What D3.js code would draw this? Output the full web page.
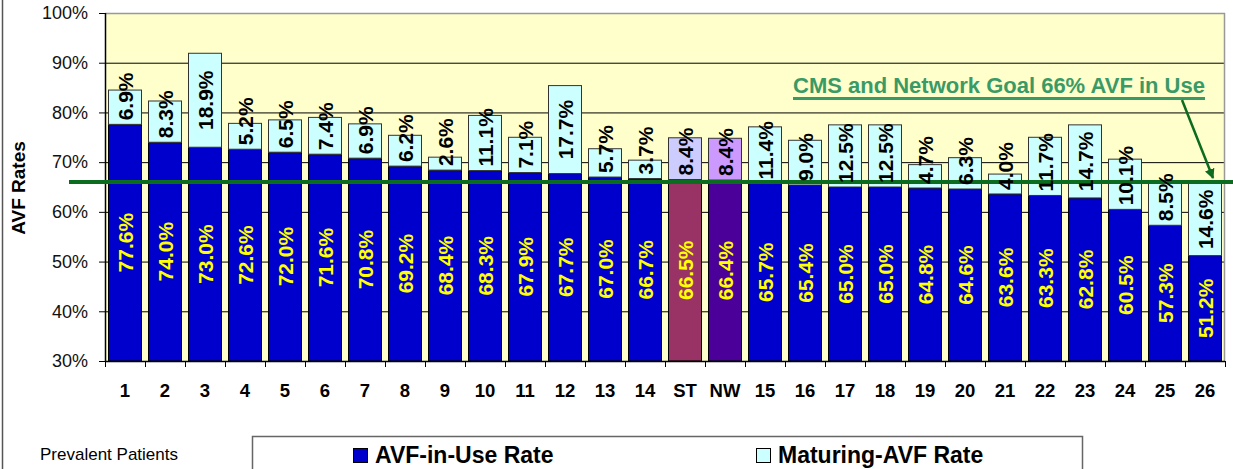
<!DOCTYPE html>
<html><head><meta charset="utf-8">
<script src="https://cdn.jsdelivr.net/npm/d3@7"></script>
<style>body{margin:0;background:#fff;} svg{display:block;font-family:"Liberation Sans",Arial,sans-serif;}</style>
</head><body>
<svg id="c" width="1233" height="469"></svg>
<script>
const categories = ["1","2","3","4","5","6","7","8","9","10","11","12","13","14","ST","NW","15","16","17","18","19","20","21","22","23","24","25","26"];
const inUse = [77.6,74.0,73.0,72.6,72.0,71.6,70.8,69.2,68.4,68.3,67.9,67.7,67.0,66.7,66.5,66.4,65.7,65.4,65.0,65.0,64.8,64.6,63.6,63.3,62.8,60.5,57.3,51.2];
const maturing = [6.9,8.3,18.9,5.2,6.5,7.4,6.9,6.2,2.6,11.1,7.1,17.7,5.7,3.7,8.4,8.4,11.4,9.0,12.5,12.5,4.7,6.3,4.0,11.7,14.7,10.1,8.5,14.6];
const yTicks = [30,40,50,60,70,80,90,100];
const goal = 66;
const goalText = "CMS and Network Goal 66% AVF in Use";
const seriesNames = ["AVF-in-Use Rate","Maturing-AVF Rate"];

const inUseColor = {ST:"#993366", NW:"#4B0099"};
const matColor = {ST:"#CCCCFF", NW:"#CC99FF"};

const svg = d3.select("#c");
const L=105, R=1225, T=13, B=361;
const x = d3.scaleBand().domain(categories).range([L,R]).paddingInner(0.175).paddingOuter(0.0875);
const y = d3.scaleLinear().domain([30,100]).range([B,T]);

// frame
svg.append("line").attr("x1",2.5).attr("x2",2.5).attr("y1",0).attr("y2",469).attr("stroke","#555").attr("stroke-width",1.5);

// plot bg
svg.append("rect").attr("x",L).attr("y",T).attr("width",R-L).attr("height",B-T).attr("fill","#FFFFCC");
// grid
svg.append("g").selectAll("line").data(yTicks.filter(d=>d>30&&d<100)).join("line")
  .attr("x1",L).attr("x2",R).attr("y1",d=>y(d)+0.5).attr("y2",d=>y(d)+0.5).attr("stroke","#000").attr("stroke-width",1);
// border top/right
svg.append("path").attr("d",`M${L},${T+0.5}H${R-0.5}V${B}`).attr("fill","none").attr("stroke","#999").attr("stroke-width",1.5);

// y axis
const ya = d3.axisLeft(y).tickValues(yTicks).tickFormat(d=>d+"%").tickSize(6).tickPadding(11);
const yg = svg.append("g").attr("transform",`translate(${L},0)`).call(ya);
yg.select(".domain").remove();
yg.selectAll("line").attr("stroke","#000");
yg.selectAll("text").attr("font-size",18).attr("fill","#111").attr("font-family","Liberation Sans, Arial, sans-serif");

// x axis ticks at band boundaries
const bounds = d3.range(categories.length+1).map(i=>L+i*(R-L)/categories.length);
svg.append("g").selectAll("line").data(bounds).join("line")
  .attr("x1",d=>Math.round(d)+0.5).attr("x2",d=>Math.round(d)+0.5).attr("y1",B).attr("y2",B+6).attr("stroke","#000");
svg.append("g").selectAll("text").data(categories).join("text")
  .attr("x",d=>x(d)+x.bandwidth()/2).attr("y",397).attr("text-anchor","middle")
  .attr("font-size",18.5).attr("font-weight","bold").attr("fill","#000").text(d=>d);

// bars
const bw = x.bandwidth();
const gB = svg.append("g");
categories.forEach((c,i)=>{
  gB.append("rect").attr("x",x(c)).attr("y",y(inUse[i])).attr("width",bw).attr("height",y(30)-y(inUse[i]))
    .attr("fill",inUseColor[c]||"#0000CC").attr("stroke","#000").attr("stroke-width",1);
  gB.append("rect").attr("x",x(c)).attr("y",y(inUse[i]+maturing[i])).attr("width",bw).attr("height",y(inUse[i])-y(inUse[i]+maturing[i]))
    .attr("fill",matColor[c]||"#CCFFFF").attr("stroke","#333").attr("stroke-width",1);
});

// axis lines
svg.append("line").attr("x1",L+0.5).attr("x2",L+0.5).attr("y1",T).attr("y2",B).attr("stroke","#000").attr("stroke-width",1.5);
svg.append("line").attr("x1",L).attr("x2",R).attr("y1",B+0.5).attr("y2",B+0.5).attr("stroke","#000").attr("stroke-width",1.5);

// goal line
svg.append("line").attr("x1",69).attr("x2",1233).attr("y1",y(goal)).attr("y2",y(goal)).attr("stroke","#0B6B1E").attr("stroke-width",4);

// labels
const gL = svg.append("g").attr("font-weight","bold").attr("font-size",21);
categories.forEach((c,i)=>{
  const cx = x(c)+bw/2;
  const cyIn = (y(inUse[i])+y(30))/2;
  gL.append("text").attr("transform",`translate(${cx},${cyIn}) rotate(-90)`).attr("text-anchor","middle")
    .attr("dominant-baseline","central").attr("fill","#FFFF00").text(inUse[i].toFixed(1)+"%");
  const segB = y(inUse[i]), segT = y(inUse[i]+maturing[i]);
  const t = gL.append("text").attr("text-anchor","middle").attr("dominant-baseline","central").attr("fill","#000")
    .text(maturing[i].toFixed(1)+"%");
  const half = t.node().getComputedTextLength()/2;
  const cy = Math.min((segB+segT)/2, segB-4-half);
  t.attr("transform",`translate(${cx},${cy}) rotate(-90)`);
});

// goal annotation
const gt = svg.append("text").attr("x",793).attr("y",93).attr("font-size",22).attr("font-weight","bold")
  .attr("fill","#3A9A66").text(goalText);
const gw = gt.node().getComputedTextLength();
svg.append("line").attr("x1",793).attr("x2",793+gw).attr("y1",98.5).attr("y2",98.5).attr("stroke","#3A9A66").attr("stroke-width",3);
svg.append("defs").append("marker").attr("id","ah").attr("viewBox","0 0 10 10").attr("refX",9).attr("refY",5)
  .attr("markerWidth",4).attr("markerHeight",4).attr("orient","auto").attr("markerUnits","strokeWidth")
  .append("path").attr("d","M0,0L10,5L0,10z").attr("fill","#0B6B1E");
svg.append("line").attr("x1",1182).attr("y1",100).attr("x2",1213).attr("y2",178).attr("stroke","#0B6B1E").attr("stroke-width",2.5).attr("marker-end","url(#ah)");

// y title
svg.append("text").attr("transform","translate(25,188) rotate(-90)").attr("text-anchor","middle")
  .attr("font-size",19).attr("font-weight","bold").attr("fill","#000").text("AVF Rates");

// bottom
svg.append("text").attr("x",40).attr("y",460).attr("font-size",17).attr("fill","#000").text("Prevalent Patients");
svg.append("path").attr("d","M252.5,469V436.5H1082.5V469").attr("fill","#fff").attr("stroke","#666").attr("stroke-width",1.5);
const leg = [{n:seriesNames[0],c:"#0000CC",x:353},{n:seriesNames[1],c:"#CCFFFF",x:756}];
leg.forEach(l=>{
  svg.append("rect").attr("x",l.x+0.5).attr("y",448.5).attr("width",14).attr("height",14).attr("fill",l.c).attr("stroke","#000");
  svg.append("text").attr("x",l.x+22).attr("y",463).attr("font-size",23).attr("font-weight","bold").attr("fill","#000").text(l.n);
});
</script>
</body></html>
